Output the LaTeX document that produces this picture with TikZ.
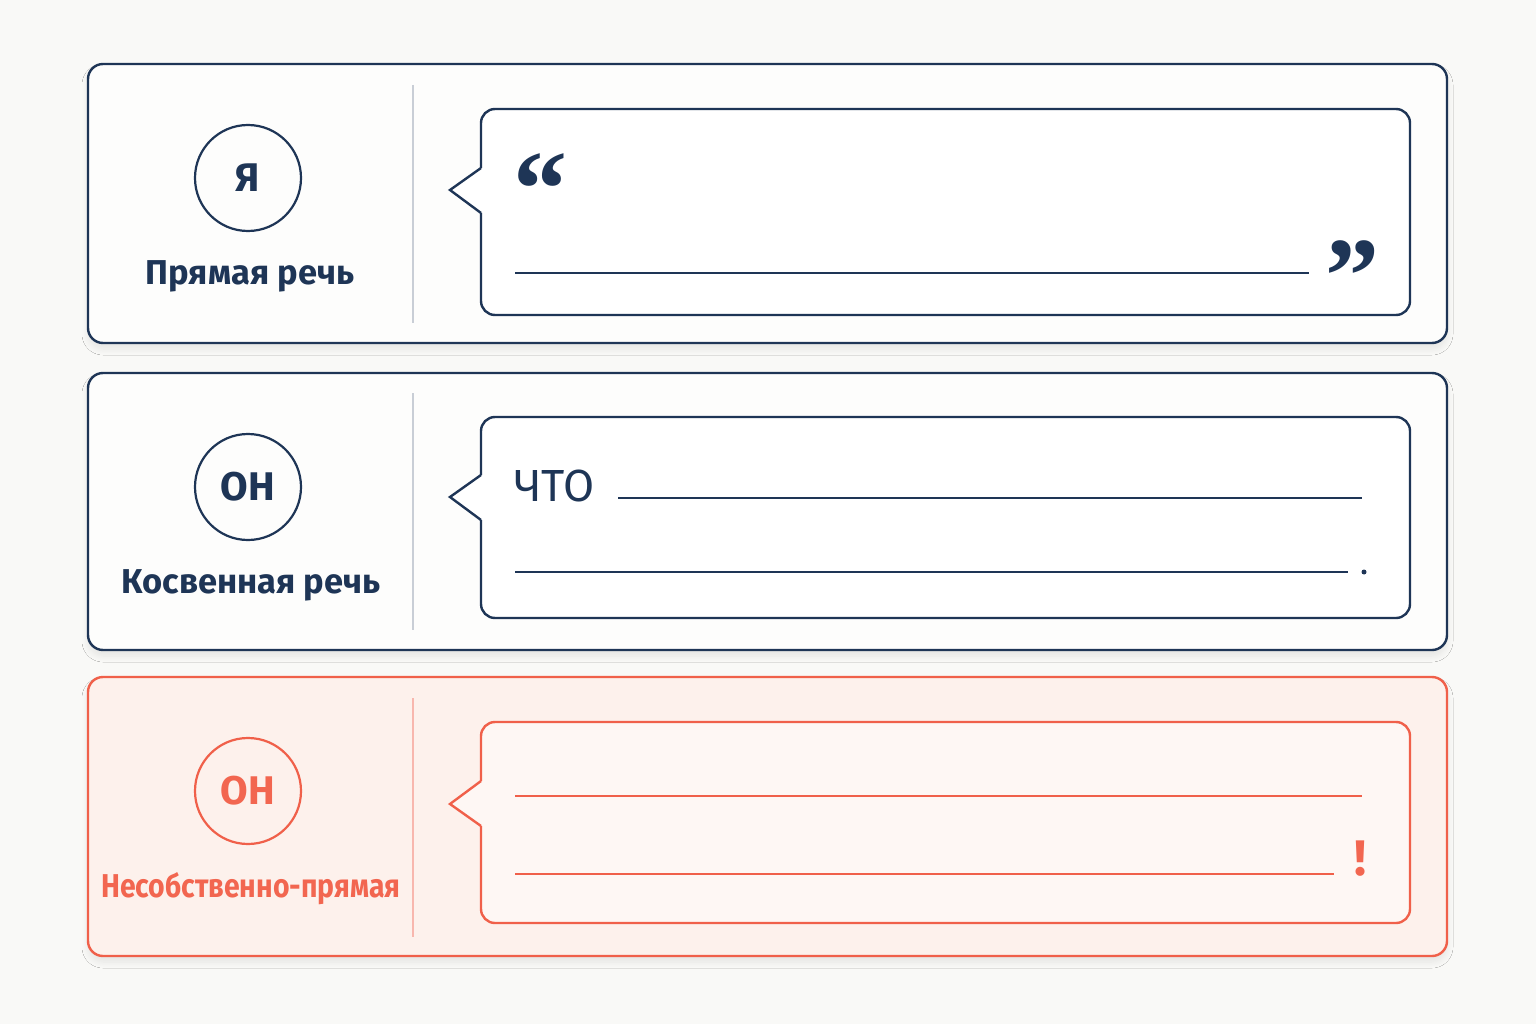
\documentclass[tikz,border=0pt]{standalone}
\usepackage{fontspec}
\setmainfont{Fira Sans}
\newfontfamily\quotefont{Liberation Serif}
\usetikzlibrary{shadows.blur}
\definecolor{navy}{HTML}{1E3556}
\definecolor{coral}{HTML}{F0604A}
\definecolor{coraltext}{HTML}{F26650}
\definecolor{divgray}{HTML}{C9CED6}
\definecolor{pagebg}{HTML}{F9F9F7}
\definecolor{panelbg}{HTML}{FDFDFC}
\definecolor{pinkbg}{HTML}{FDF1EC}
\definecolor{pinkbubble}{HTML}{FEF7F4}
\tikzset{
  panel/.style={draw=navy, line width=2.4pt, fill=panelbg, rounded corners=15pt,
    minimum width=1359pt, inner sep=0pt,
    blur shadow={shadow xshift=0pt, shadow yshift=-6pt, shadow blur radius=6pt,
      shadow blur steps=10, shadow opacity=8}},
  who/.style={circle, draw=navy, line width=2.2pt, minimum size=106pt, inner sep=0pt,
    text=navy, font=\fontsize{40}{40}\selectfont\bfseries},
  kind/.style={text=navy, font=\fontsize{34.5}{34.5}\selectfont\bfseries},
  bubble/.style={draw=navy, line width=2.4pt, fill=white, rounded corners=14pt},
  tail/.style={draw=navy, line width=2.4pt, fill=white, line join=miter},
  quote/.style={text=navy, font=\fontsize{108}{108}\quotefont\bfseries, inner sep=0pt},
  wline/.style={navy, line width=2pt},
  divider/.style={divgray, line width=2pt}
}
\begin{document}
\begin{tikzpicture}[x=1pt, y=-1pt]
  \useasboundingbox[fill=pagebg] (0,0) rectangle (1536,1024);
  % panels
  \node[panel, minimum height=279pt] (p1) at (767.5,203.5) {};
  \node[panel, minimum height=277pt] (p2) at (767.5,511.5) {};
  \node[panel, minimum height=279pt, draw=coral, fill=pinkbg] (p3) at (767.5,816.5) {};
  % dividers
  \draw[divider] (413,85) -- (413,323);
  \draw[divider] (413,393) -- (413,630);
  \draw[divider, coral!45] (413,698) -- (413,937);
  % speakers
  \node[who] (c1) at (248,178) {Я};
  \node[kind] (k1) at (250,276) {Прямая речь};
  \node[who] (c2) at (248,487) {ОН};
  \node[kind] (k2) at (251,585) {Косвенная речь};
  \node[who, draw=coral, text=coraltext] (c3) at (248,791) {ОН};
  \node[kind, font=\fontsize{33}{33}\selectfont\bfseries, text=coraltext] (k3) at (251,889) {\scalebox{0.86}[1]{Несобственно-прямая}};
  % bubble 1
  \path[bubble] (481,168) -- (481,109) -- (1410,109) -- (1410,315) -- (481,315) -- (481,213);
  \path[tail] (481,213) -- (450,190) -- (481,168);
  \node[quote, anchor=north west] (q1) at (513,153) {“};
  \draw[wline] (515,273) -- (1309,273);
  \node[quote, anchor=north east] (q2) at (1380,240) {”};
  % bubble 2
  \path[bubble] (481,475) -- (481,417) -- (1410,417) -- (1410,618) -- (481,618) -- (481,520);
  \path[tail] (481,520) -- (450,497) -- (481,475);
  \node[text=navy, font=\fontsize{45}{45}\selectfont, anchor=base west, inner sep=0pt] (that) at (514,501) {ЧТО};
  \draw[wline] (618,498) -- (1362,498);
  \draw[wline] (515,572) -- (1348,572);
  \fill[navy] (1364,572) circle (2.5);
  % bubble 3
  \path[bubble, draw=coral, fill=pinkbubble] (481,781) -- (481,722) -- (1410,722) -- (1410,923) -- (481,923) -- (481,826);
  \path[tail, draw=coral, fill=pinkbubble] (481,826) -- (450,804) -- (481,781);
  \draw[wline, coral] (515,796) -- (1362,796);
  \draw[wline, coral] (515,874) -- (1334,874);
  \node[text=coraltext, font=\fontsize{50}{50}\selectfont\bfseries, anchor=base, inner sep=0pt] (bang) at (1360,875) {!};
\end{tikzpicture}
\end{document}
